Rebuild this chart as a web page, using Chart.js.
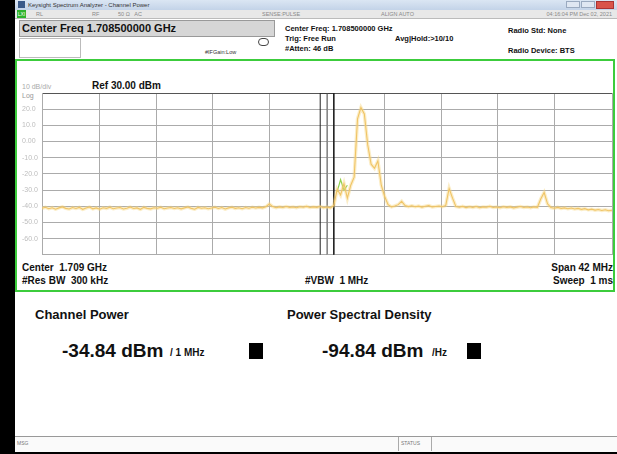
<!DOCTYPE html>
<html>
<head>
<meta charset="utf-8">
<script src="https://cdn.jsdelivr.net/npm/chart.js@4/dist/chart.umd.min.js"></script>
<style>
  html, body { margin: 0; padding: 0; }
  body {
    width: 617px; height: 454px; position: relative; overflow: hidden;
    background: #fff; font-family: "Liberation Sans", Arial, sans-serif; color: #111;
  }
  .abs { position: absolute; white-space: nowrap; }
  .b { font-weight: bold; }
</style>
</head>
<body>
<!-- window frame -->
<div class="abs" style="left:0;top:0;width:15px;height:454px;background:#000"></div>
<div class="abs" style="left:0;top:451px;width:617px;height:3px;background:#000"></div>

<!-- title bar -->
<div class="abs" style="left:15px;top:0;width:602px;height:10px;background:linear-gradient(#dbe6f3,#c3d3e8)"></div>
<div class="abs" style="left:18px;top:1px;width:7px;height:7px;background:#3a5a8a"></div>
<div class="abs" style="left:28px;top:1px;font-size:6px;line-height:8px;color:#333">Keysight Spectrum Analyzer - Channel Power</div>
<div class="abs" style="left:566px;top:1px;width:14px;height:7px;background:#dfe7f2;border:1px solid #9aaac0;box-sizing:border-box"></div>
<div class="abs" style="left:581px;top:1px;width:14px;height:7px;background:#dfe7f2;border:1px solid #9aaac0;box-sizing:border-box"></div>
<div class="abs" style="left:596px;top:1px;width:18px;height:8px;background:#d9534a;border:1px solid #a33;box-sizing:border-box"></div>

<!-- status bar -->
<div class="abs" style="left:15px;top:10px;width:602px;height:8px;background:#e8e8e8;border-bottom:1px solid #bbb"></div>
<div class="abs" style="left:17px;top:10px;width:9px;height:8px;background:#2db32d;font-size:5px;line-height:8px;color:#fff;text-align:center">LXI</div>
<div class="abs" style="left:36px;top:10px;font-size:5.5px;line-height:8px;color:#888">RL</div>
<div class="abs" style="left:92px;top:10px;font-size:5.5px;line-height:8px;color:#888">RF</div>
<div class="abs" style="left:118px;top:10px;font-size:5.5px;line-height:8px;color:#888">50 Ω &nbsp; AC</div>
<div class="abs" style="left:262px;top:10px;font-size:5.5px;line-height:8px;color:#888">SENSE:PULSE</div>
<div class="abs" style="left:381px;top:10px;font-size:5.5px;line-height:8px;color:#888">ALIGN AUTO</div>
<div class="abs" style="right:5px;top:10px;font-size:5.5px;line-height:8px;color:#888">04:16:04 PM Dec 02, 2021</div>

<!-- info panel -->
<div class="abs b" style="left:19px;top:20px;width:256px;height:17px;background:#d6d6d6;border:1px solid #999;box-sizing:border-box;font-size:11px;line-height:15px;padding-left:2px">Center Freq 1.708500000 GHz</div>
<div class="abs" style="left:19px;top:38px;width:62px;height:20px;border:1px solid #bbb;box-sizing:border-box"></div>
<div class="abs" style="left:205px;top:48px;font-size:5.5px;line-height:8px;color:#333">#IFGain:Low</div>
<div class="abs" style="left:258px;top:38px;width:11px;height:8px;border:1px solid #444;border-radius:5px;box-sizing:border-box"></div>
<div class="abs b" style="left:285px;top:24px;font-size:7.5px;line-height:9px">Center Freq: 1.708500000 GHz</div>
<div class="abs b" style="left:285px;top:34px;font-size:7.5px;line-height:9px">Trig: Free Run</div>
<div class="abs b" style="left:285px;top:44px;font-size:7.5px;line-height:9px">#Atten: 46 dB</div>
<div class="abs b" style="left:395px;top:34px;font-size:7.5px;line-height:9px">Avg|Hold:&gt;10/10</div>
<div class="abs b" style="left:508px;top:26px;font-size:7.5px;line-height:9px">Radio Std: None</div>
<div class="abs b" style="left:508px;top:46px;font-size:7.5px;line-height:9px">Radio Device: BTS</div>

<!-- graticule panel -->
<div class="abs" style="left:15px;top:59px;width:600px;height:233px;border:2px solid #3ccc3c;box-sizing:border-box"></div>
<div class="abs" style="left:22px;top:83px;font-size:7px;line-height:8px;color:#aaa">10 dB/div</div>
<div class="abs" style="left:22px;top:92px;font-size:7px;line-height:8px;color:#999">Log</div>
<div class="abs b" style="left:92px;top:80px;font-size:10px;line-height:12px">Ref 30.00 dBm</div>
<div class="abs b" style="left:22px;top:262px;font-size:10px;line-height:12px">Center &nbsp;1.709 GHz</div>
<div class="abs b" style="left:22px;top:275px;font-size:10px;line-height:12px">#Res BW &nbsp;300 kHz</div>
<div class="abs b" style="left:305px;top:275px;font-size:10px;line-height:12px">#VBW &nbsp;1 MHz</div>
<div class="abs b" style="right:4px;top:262px;font-size:10px;line-height:12px">Span 42 MHz</div>
<div class="abs b" style="right:4px;top:275px;font-size:10px;line-height:12px">Sweep &nbsp;1 ms</div>
<canvas id="spectrum" class="abs" width="596" height="199" style="left:18px;top:62px;width:596px;height:199px"></canvas>

<!-- results panel -->
<div class="abs b" style="left:35px;top:307px;font-size:13px;line-height:16px">Channel Power</div>
<div class="abs b" style="left:287px;top:307px;font-size:13px;line-height:16px">Power Spectral Density</div>
<div class="abs b" style="left:62px;top:340px;font-size:19px;line-height:22px">-34.84 dBm</div>
<div class="abs b" style="left:170px;top:347px;font-size:10px;line-height:12px">/ 1 MHz</div>
<div class="abs" style="left:249px;top:343px;width:14px;height:16px;background:#000"></div>
<div class="abs b" style="left:322px;top:340px;font-size:19px;line-height:22px">-94.84 dBm</div>
<div class="abs b" style="left:432px;top:347px;font-size:10px;line-height:12px">/Hz</div>
<div class="abs" style="left:467px;top:343px;width:14px;height:16px;background:#000"></div>

<!-- message bar -->
<div class="abs" style="left:15px;top:436px;width:602px;height:15px;border-top:1px solid #999;background:#fafafa"></div>
<div class="abs" style="left:17px;top:440px;font-size:5px;line-height:7px;color:#777">MSG</div>
<div class="abs" style="left:398px;top:437px;width:32px;height:14px;border-left:1px solid #aaa;border-right:1px solid #aaa"></div>
<div class="abs" style="left:401px;top:440px;font-size:5px;line-height:7px;color:#777">STATUS</div>

<script>
// sweep: 1.6875 .. 1.7295 GHz, one point every 0.25 MHz
const freqStartMHz = 1687.5;
const freqStepMHz = 0.25;

// trace level (dBm)
const traceLevels = [
  -41.2, -40.6, -41.5, -40.9, -41.8, -41.0, -40.4, -41.3, -41.7, -40.8,
  -41.4, -40.7, -41.9, -41.1, -40.5, -41.6, -41.0, -41.8, -40.9, -41.3,
  -40.6, -41.5, -41.1, -40.8, -41.7, -41.2, -40.5, -41.4, -41.0, -41.9,
  -40.7, -41.3, -41.6, -40.9, -41.2, -40.6, -41.5, -41.1, -40.8, -41.4,
  -40.9, -41.6, -41.0, -40.5, -41.3, -41.8, -40.7, -41.2, -40.9, -41.5,
  -41.1, -40.6, -41.4, -40.8, -41.7, -41.0, -40.6, -41.3, -40.9, -41.5,
  -40.8, -41.2, -40.6, -41.1, -40.7, -41.0, -40.3, -38.6, -40.2, -40.9,
  -40.4, -40.8, -40.2, -40.7, -40.5, -40.9, -40.3, -40.6, -40.1, -40.8,
  -40.4, -40.7, -40.2, -40.9, -40.5, -41.0, -39.5, -29.5, -33.0, -26.0,
  -35.0, -27.0, -22.0, 14.0, 21.0, 17.0, -2.0, -14.0, -16.5, -12.0,
  -27.0, -34.0, -39.0, -40.4, -39.8, -39.0, -37.0, -39.6, -40.2, -39.7,
  -40.3, -39.9, -40.5, -40.0, -39.6, -40.4, -40.1, -39.8, -40.3, -39.5,
  -29.0, -35.0, -40.2, -40.6, -40.1, -40.8, -40.3, -40.7, -40.2, -40.9,
  -40.4, -40.6, -40.1, -40.8, -40.5, -40.9, -40.3, -40.7, -40.4, -41.0,
  -40.6, -40.2, -40.8, -40.5, -40.9, -40.4, -40.7, -35.5, -31.5, -38.5,
  -40.8, -41.2, -40.7, -41.3, -41.0, -41.5, -41.1, -41.7, -41.3, -41.9,
  -41.5, -42.2, -41.8, -42.4, -42.0, -42.6, -42.2, -42.8, -42.5
];

// short green segment near the channel edge
const greenFreqs = [1709.25, 1709.5, 1709.75, 1710.0];
const greenLevels = [-31.0, -23.5, -30.0, -27.0];

// channel integration bandwidth (1 MHz around 1.7085 GHz)
const channelFreqs = [1708.0, 1708.5, 1709.0];

// graticule
const gridFreqs = [1687.5, 1691.7, 1695.9, 1700.1, 1704.3, 1708.5, 1712.7, 1716.9, 1721.1, 1725.3, 1729.5];
const levelTicks = [30, 20, 10, 0, -10, -20, -30, -40, -50, -60, -70];
const levelLabels = ['', '20.0', '10.0', '0.00', '-10.0', '-20.0', '-30.0', '-40.0', '-50.0', '-60.0', ''];

const refLevel = levelTicks[0];
const bottomLevel = levelTicks[levelTicks.length - 1];

const tracePoints = traceLevels.map((v, i) => ({ x: freqStartMHz + i * freqStepMHz, y: v }));
const greenPoints = greenLevels.map((v, i) => ({ x: greenFreqs[i], y: v }));

const edgeBox = [
    { x: channelFreqs[0], y: bottomLevel },
    { x: channelFreqs[0], y: refLevel },
    { x: channelFreqs[2], y: refLevel },
    { x: channelFreqs[2], y: bottomLevel }
];
const centerLine = [
    { x: channelFreqs[1], y: bottomLevel },
    { x: channelFreqs[1], y: refLevel }
];

const gridGray = "#ababab";

new Chart(document.getElementById("spectrum"), {
    type: "line",
    data: {
        datasets: [
            // soft halo under the trace (averaged sweeps smear it a bit)
            { data: tracePoints, borderColor: "rgba(246,214,130,0.45)", borderWidth: 3.5, pointRadius: 0, tension: 0 },
            { data: tracePoints, borderColor: "#ebb54f", borderWidth: 1.1, pointRadius: 0, tension: 0 },
            { data: greenPoints, borderColor: "#8fd14f", borderWidth: 1.2, pointRadius: 0, tension: 0 },
            { data: edgeBox, borderColor: "#222222", borderWidth: 1, pointRadius: 0 },
            { data: centerLine, borderColor: "#666666", borderWidth: 1, pointRadius: 0 }
        ]
    },
    options: {
        responsive: false,
        animation: false,
        devicePixelRatio: 1,
        layout: {
            padding: { left: 4, top: 31, right: 2, bottom: 2 }
        },
        plugins: {
            legend: { display: false },
            tooltip: { enabled: false }
        },
        scales: {
            x: {
                type: "linear",
                min: gridFreqs[0],
                max: gridFreqs[gridFreqs.length - 1],
                afterBuildTicks: s => { s.ticks = gridFreqs.map(v => ({ value: v })); },
                afterFit: s => { s.height = 0; },
                ticks: { display: false },
                grid: { color: gridGray, drawTicks: false },
                border: { color: gridGray }
            },
            y: {
                min: bottomLevel,
                max: refLevel,
                afterBuildTicks: s => { s.ticks = levelTicks.map(v => ({ value: v })); },
                afterFit: s => { s.width = 20; },
                ticks: {
                    callback: v => levelLabels[levelTicks.indexOf(v)],
                    color: "#bdbdbd",
                    font: { family: "Liberation Sans", size: 7 },
                    crossAlign: "far",
                    padding: 2
                },
                grid: {
                    color: c => (c.tick && c.tick.value === refLevel) ? "#555555" : gridGray,
                    drawTicks: false
                },
                border: { color: gridGray }
            }
        }
    }
});
</script>
</body>
</html>
